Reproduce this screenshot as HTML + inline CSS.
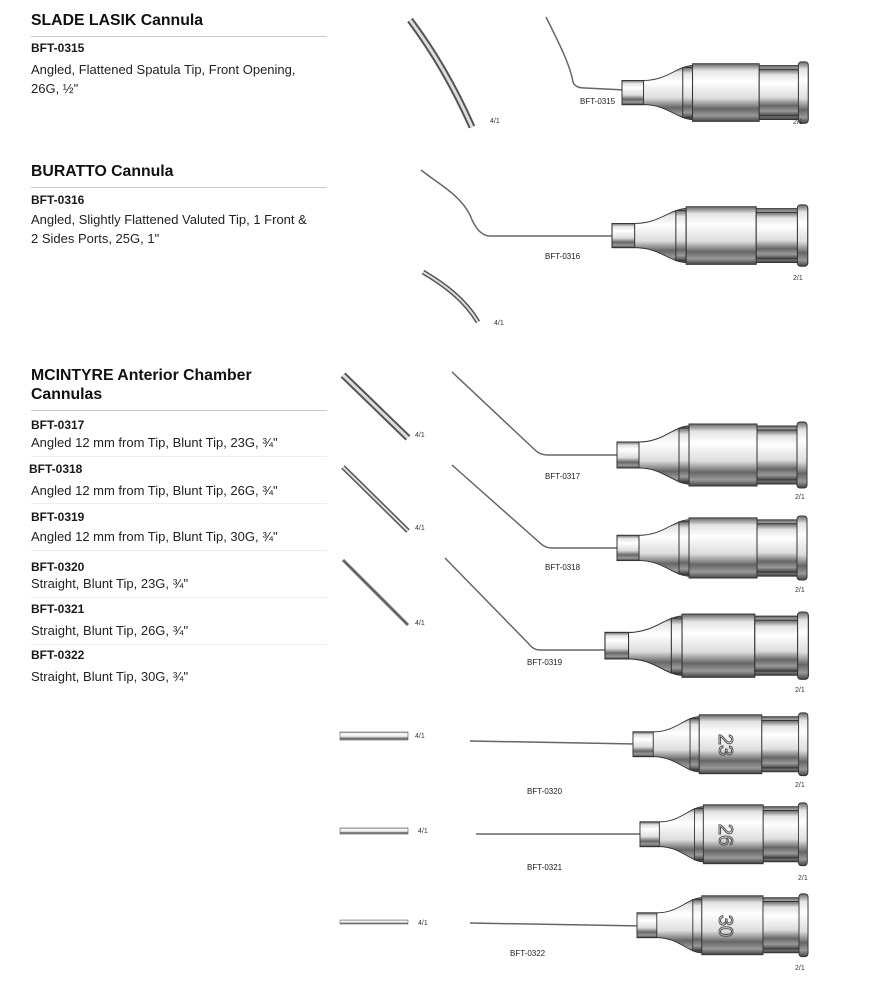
<!DOCTYPE html>
<html><head><meta charset="utf-8"><style>
body{margin:0;background:#fff;width:877px;height:1000px;position:relative;overflow:hidden;font-family:"Liberation Sans",sans-serif;color:#1a1a1a}
.t{position:absolute;white-space:nowrap}
.h{font-size:15.8px;font-weight:bold;left:31px;color:#111}
.c{font-size:12px;font-weight:bold;left:31px}
.d{font-size:13px;left:31px;color:#222}
.ln{position:absolute;left:31px;width:296px;height:1px;background:#ccc}
.ln2{position:absolute;left:31px;width:296px;height:1px;background:#eee}
.lab{position:absolute;font-size:8px;color:#222}
.sc{position:absolute;font-size:7px;color:#333}
svg{position:absolute;left:0;top:0}
</style></head><body>
<div class="t h" style="top:12px">SLADE LASIK Cannula</div>
<div class="ln" style="top:36px"></div>
<div class="t c" style="top:41px">BFT-0315</div>
<div class="t d" style="top:62px">Angled, Flattened Spatula Tip, Front Opening,</div>
<div class="t d" style="top:81px">26G, ½"</div>

<div class="t h" style="top:163px">BURATTO Cannula</div>
<div class="ln" style="top:187px"></div>
<div class="t c" style="top:193px">BFT-0316</div>
<div class="t d" style="top:212px">Angled, Slightly Flattened Valuted Tip, 1 Front &amp;</div>
<div class="t d" style="top:231px">2 Sides Ports, 25G, 1"</div>

<div class="t h" style="top:367px">MCINTYRE Anterior Chamber</div>
<div class="t h" style="top:386px">Cannulas</div>
<div class="ln" style="top:410px"></div>
<div class="t c" style="top:418px">BFT-0317</div>
<div class="t d" style="top:435px">Angled 12 mm from Tip, Blunt Tip, 23G, ¾"</div>
<div class="ln2" style="top:456px"></div>
<div class="t c" style="top:462px;left:29px">BFT-0318</div>
<div class="t d" style="top:483px">Angled 12 mm from Tip, Blunt Tip, 26G, ¾"</div>
<div class="ln2" style="top:503px"></div>
<div class="t c" style="top:510px">BFT-0319</div>
<div class="t d" style="top:529px">Angled 12 mm from Tip, Blunt Tip, 30G, ¾"</div>
<div class="ln2" style="top:550px"></div>
<div class="t c" style="top:560px">BFT-0320</div>
<div class="t d" style="top:576px">Straight, Blunt Tip, 23G, ¾"</div>
<div class="ln2" style="top:597px"></div>
<div class="t c" style="top:602px">BFT-0321</div>
<div class="t d" style="top:623px">Straight, Blunt Tip, 26G, ¾"</div>
<div class="ln2" style="top:644px"></div>
<div class="t c" style="top:648px">BFT-0322</div>
<div class="t d" style="top:669px">Straight, Blunt Tip, 30G, ¾"</div>

<svg width="877" height="1000" viewBox="0 0 877 1000">
<defs>
<linearGradient id="g" x1="0" y1="0" x2="0" y2="1">
<stop offset="0" stop-color="#666"/><stop offset=".12" stop-color="#e4e4e4"/><stop offset=".3" stop-color="#fff"/><stop offset=".6" stop-color="#ddd"/><stop offset=".78" stop-color="#666"/><stop offset=".9" stop-color="#999"/><stop offset="1" stop-color="#444"/>
</linearGradient>
<g id="hub">
<path d="M0,22 H22 C45,22 55,8 70,6 H190 V64 H70 C55,62 45,48 22,48 H0 Z" fill="url(#g)" stroke="#333" stroke-width="1"/>
<rect x="0" y="22" width="22" height="26" fill="url(#g)" stroke="#333"/>
<rect x="62" y="8" width="10" height="54" fill="url(#g)" stroke="#333"/>
<rect x="72" y="4" width="68" height="62" fill="url(#g)" stroke="#333"/>
<rect x="140" y="10" width="42" height="50" fill="url(#g)" stroke="#333"/>
<rect x="180" y="2" width="10" height="66" rx="3" fill="url(#g)" stroke="#333"/>
</g>
</defs>
<g fill="none" stroke="#666" stroke-width="1.5">
<path d="M546,17 C560,45 570,65 573,82 Q575,88 585,88 L625,90"/>
<path d="M421,170 C440,185 460,195 470,215 Q478,236 490,236 L612,236"/>
<path d="M452,372 L535,450 Q540,455 548,455 L620,455"/>
<path d="M452,465 L540,543 Q545,548 552,548 L620,548"/>
<path d="M445,558 L528,643 Q533,650 540,650 L608,650"/>
<path d="M470,741 L636,744"/>
<path d="M476,834 L642,834"/>
<path d="M470,923 L640,926"/>
</g>
<use href="#hub" transform="translate(622,60) scale(0.98,0.93)"/>
<use href="#hub" transform="translate(612,203) scale(1.03,0.93)"/>
<use href="#hub" transform="translate(617,420) scale(1.0,1.0)"/>
<use href="#hub" transform="translate(617,514) scale(1.0,0.97)"/>
<use href="#hub" transform="translate(605,610) scale(1.07,1.02)"/>
<use href="#hub" transform="translate(633,711) scale(0.92,0.95)"/>
<use href="#hub" transform="translate(640,801) scale(0.88,0.95)"/>
<use href="#hub" transform="translate(637,892) scale(0.9,0.95)"/>
<g font-family="Liberation Sans" font-size="20" fill="none" stroke="#555" text-anchor="middle">
<text x="727" y="753" transform="rotate(90 727 745)">23</text>
<text x="727" y="843" transform="rotate(90 727 835)">26</text>
<text x="727" y="934" transform="rotate(90 727 926)">30</text>
</g>
<g stroke-linecap="butt">
<path d="M410,20 C440,60 460,100 472,127" stroke="#555" stroke-width="7" fill="none"/>
<path d="M410,20 C440,60 460,100 472,127" stroke="#ddd" stroke-width="3" fill="none"/>
<path d="M423,272 C445,285 465,300 478,322" stroke="#555" stroke-width="5" fill="none"/>
<path d="M423,272 C445,285 465,300 478,322" stroke="#ddd" stroke-width="2" fill="none"/>
<line x1="343" y1="375" x2="408" y2="438" stroke="#555" stroke-width="7"/>
<line x1="343" y1="375" x2="408" y2="438" stroke="#ddd" stroke-width="3"/>
<line x1="343" y1="467" x2="408" y2="531" stroke="#555" stroke-width="5"/>
<line x1="343" y1="467" x2="408" y2="531" stroke="#ddd" stroke-width="2"/>
<line x1="343" y1="560" x2="408" y2="625" stroke="#666" stroke-width="3"/>
<rect x="340" y="732" width="68" height="8" fill="url(#g)" stroke="#555" stroke-width=".6"/>
<rect x="340" y="828" width="68" height="6" fill="url(#g)" stroke="#555" stroke-width=".6"/>
<rect x="340" y="920" width="68" height="4" fill="url(#g)" stroke="#555" stroke-width=".5"/>
</g>
</svg>
<div class="lab" style="left:580px;top:97px">BFT-0315</div>
<div class="lab" style="left:545px;top:252px">BFT-0316</div>
<div class="lab" style="left:545px;top:472px">BFT-0317</div>
<div class="lab" style="left:545px;top:563px">BFT-0318</div>
<div class="lab" style="left:527px;top:658px">BFT-0319</div>
<div class="lab" style="left:527px;top:787px">BFT-0320</div>
<div class="lab" style="left:527px;top:863px">BFT-0321</div>
<div class="lab" style="left:510px;top:949px">BFT-0322</div>
<div class="sc" style="left:490px;top:118px">4/1</div>
<div class="sc" style="left:793px;top:119px">2/1</div>
<div class="sc" style="left:793px;top:275px">2/1</div>
<div class="sc" style="left:494px;top:320px">4/1</div>
<div class="sc" style="left:415px;top:432px">4/1</div>
<div class="sc" style="left:415px;top:525px">4/1</div>
<div class="sc" style="left:415px;top:620px">4/1</div>
<div class="sc" style="left:415px;top:733px">4/1</div>
<div class="sc" style="left:418px;top:828px">4/1</div>
<div class="sc" style="left:418px;top:920px">4/1</div>
<div class="sc" style="left:795px;top:494px">2/1</div>
<div class="sc" style="left:795px;top:587px">2/1</div>
<div class="sc" style="left:795px;top:687px">2/1</div>
<div class="sc" style="left:795px;top:782px">2/1</div>
<div class="sc" style="left:798px;top:875px">2/1</div>
<div class="sc" style="left:795px;top:965px">2/1</div>
</body></html>
